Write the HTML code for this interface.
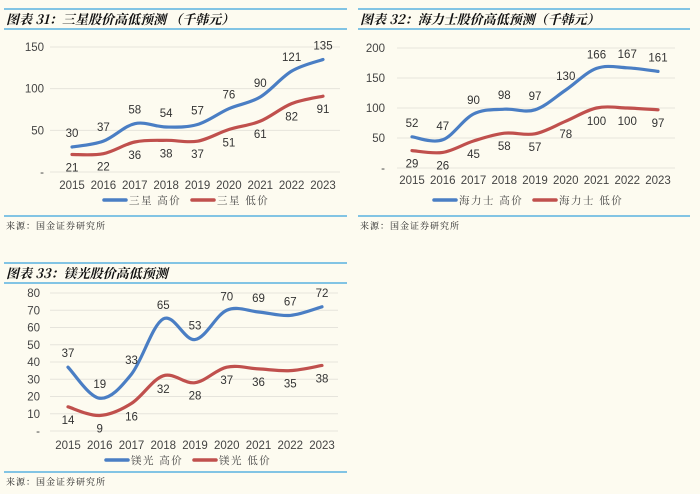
<!DOCTYPE html>
<html><head><meta charset="utf-8">
<style>
body{margin:0;width:700px;height:494px;background:#fdfbf0;overflow:hidden;font-family:"Liberation Sans","Noto Sans CJK SC",sans-serif}
svg{position:absolute;left:0;top:0}
.t{font-family:"Noto Serif CJK SC","Noto Sans CJK SC",serif;font-weight:bold;font-style:italic;font-size:13px;fill:#111}
.s{font-family:"Noto Serif CJK SC",serif;font-size:9px;fill:#222;letter-spacing:1px}
.ax{font-size:11.5px;fill:#444}
.lb{font-size:11.5px;fill:#333}
.lg{font-family:"Noto Serif CJK SC","Noto Sans CJK SC",serif;font-size:10.5px;fill:#444;letter-spacing:1.5px}
</style></head><body>
<svg id="c" width="700" height="494"></svg>
<script>
const years=['2015','2016','2017','2018','2019','2020','2021','2022','2023'];
const samsungHigh=[30,37,58,54,57,76,90,121,135];
const samsungLow=[21,22,36,38,37,51,61,82,91];
const samsungTicks=[0,50,100,150];
const hynixHigh=[52,47,90,98,97,130,166,167,161];
const hynixLow=[29,26,45,58,57,78,100,100,97];
const hynixTicks=[0,50,100,150,200];
const lgHigh=[37,19,33,65,53,70,69,67,72];
const lgLow=[14,9,16,32,28,37,36,35,38];
const lgTicks=[0,10,20,30,40,50,60,70,80];

const NS='http://www.w3.org/2000/svg';
const svg=document.getElementById('c');
function mk(tag,attrs,parent){const e=document.createElementNS(NS,tag);for(const k in attrs)e.setAttribute(k,attrs[k]);(parent||svg).appendChild(e);return e;}
function txt(s,x,y,cls,anchor,parent){const e=mk('text',{x:x,y:y,class:cls,'text-anchor':anchor||'middle'},parent);e.textContent=s;return e;}
function smooth(pts){let d='M'+pts[0][0]+','+pts[0][1];for(let i=0;i<pts.length-1;i++){const p0=pts[i-1]||pts[i],p1=pts[i],p2=pts[i+1],p3=pts[i+2]||p2;const t=0.17;
d+=' C'+(p1[0]+(p2[0]-p0[0])*t)+','+(p1[1]+(p2[1]-p0[1])*t)+' '+(p2[0]-(p3[0]-p1[0])*t)+','+(p2[1]-(p3[1]-p1[1])*t)+' '+p2[0]+','+p2[1];}return d;}

function chart(c){
  const g=mk('g',{});
  
  
  mk('line',{x1:c.L,x2:c.R,y1:c.top,y2:c.top,stroke:'#3aa4dc','stroke-width':1.3},g);
  mk('line',{x1:c.L,x2:c.R,y1:c.top+20,y2:c.top+20,stroke:'#3aa4dc','stroke-width':1.3},g);
  mk('line',{x1:c.L,x2:c.R,y1:c.bot,y2:c.bot,stroke:'#3aa4dc','stroke-width':1.3},g);
  const t=txt(c.title,c.L+2,c.top+15,'t','start',g);
  
  
  const s=txt('来源：国金证券研究所',c.L+2,c.bot+13,'s','start',g);
  
  
  const max=c.ticks[c.ticks.length-1];
  const y=v=>c.y0-(v/max)*(c.y0-c.yMax);
  const x=i=>c.x0+i*(c.x1-c.x0)/(years.length-1);
  c.ticks.forEach(v=>{
    mk('line',{x1:c.gL,x2:c.gR,y1:y(v),y2:y(v),stroke:'#e6e4dc','stroke-width':1},g);
    const e=txt(v===0?'-':String(v),c.tx,y(v)+4,'ax','end',g);
    
    
  });
  years.forEach((yr,i)=>{const e=txt(yr,x(i),c.xl,'ax','middle',g);
    
    });
  [[c.hi,'#4a7ec4',-10,c.hiName],[c.lo,'#c0504d',17,c.loName]].forEach(([arr,col,off,nm])=>{
    const p=mk('path',{d:smooth(arr.map((v,i)=>[x(i),y(v)])),fill:'none',stroke:col,'stroke-width':3.2,'stroke-linecap':'round'},g);
    
    
    arr.forEach((v,i)=>{const e=txt(String(v),x(i),y(v)+off,'lb','middle',g);
      
      });
  });
  const lx=c.lgx;
  mk('line',{x1:lx,x2:lx+22,y1:c.lgy,y2:c.lgy,stroke:'#4a7ec4','stroke-width':3.5,'stroke-linecap':'round'},g);
  const a=txt(c.hiName,lx+25,c.lgy+4,'lg','start',g);
  
  
  mk('line',{x1:lx+c.lgGap,x2:lx+c.lgGap+22,y1:c.lgy,y2:c.lgy,stroke:'#c0504d','stroke-width':3.5,'stroke-linecap':'round'},g);
  const b=txt(c.loName,lx+c.lgGap+25,c.lgy+4,'lg','start',g);
  
  
}
chart({name:'samsung-chart',title:'图表 31：三星股价高低预测 （千韩元）',L:4,R:347,top:9,bot:216,ticks:samsungTicks,y0:172,yMax:47,x0:72,x1:323,gL:50,gR:340,tx:44,xl:189,hi:samsungHigh,lo:samsungLow,hiName:'三星 高价',loName:'三星 低价',lgx:104,lgy:200,lgGap:88});
chart({name:'hynix-chart',title:'图表 32：海力士股价高低预测（千韩元）',L:358,R:690,top:9,bot:216,ticks:hynixTicks,y0:168,yMax:48,x0:412,x1:658,gL:397,gR:675,tx:385,xl:184,hi:hynixHigh,lo:hynixLow,hiName:'海力士 高价',loName:'海力士 低价',lgx:434,lgy:200,lgGap:100});
chart({name:'lg-display-chart',title:'图表 33：镁光股价高低预测',L:4,R:347,top:263,bot:472,ticks:lgTicks,y0:431,yMax:293,x0:68,x1:322,gL:50,gR:338,tx:40,xl:449,hi:lgHigh,lo:lgLow,hiName:'镁光 高价',loName:'镁光 低价',lgx:106,lgy:460,lgGap:88});
</script>
</body></html>
